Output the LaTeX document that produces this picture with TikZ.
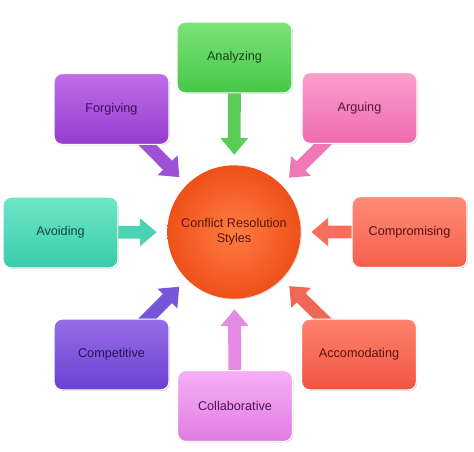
\documentclass[tikz,border=0pt]{standalone}
\usepackage{fontspec}
\setmainfont{Liberation Sans}
\usetikzlibrary{calc,shadows}
\pgfdeclarelayer{bg}
\pgfsetlayers{bg,main}
% box colours: top, bottom, text
\definecolor{anaT}{RGB}{125,226,120}\definecolor{anaB}{RGB}{70,200,70}\definecolor{anaX}{RGB}{25,70,25}
\definecolor{argT}{RGB}{250,160,205}\definecolor{argB}{RGB}{240,105,175}\definecolor{argX}{RGB}{90,20,60}
\definecolor{forT}{RGB}{190,110,230}\definecolor{forB}{RGB}{150,60,210}\definecolor{forX}{RGB}{60,15,90}
\definecolor{avoT}{RGB}{110,230,200}\definecolor{avoB}{RGB}{55,205,170}\definecolor{avoX}{RGB}{20,70,60}
\definecolor{comT}{RGB}{255,140,120}\definecolor{comB}{RGB}{245,95,75}\definecolor{comX}{RGB}{90,15,15}
\definecolor{cptT}{RGB}{150,110,230}\definecolor{cptB}{RGB}{105,65,210}\definecolor{cptX}{RGB}{40,20,90}
\definecolor{accT}{RGB}{255,130,110}\definecolor{accB}{RGB}{240,85,65}\definecolor{accX}{RGB}{90,20,15}
\definecolor{colT}{RGB}{245,175,245}\definecolor{colB}{RGB}{225,125,225}\definecolor{colX}{RGB}{80,20,80}
\definecolor{circI}{RGB}{255,125,65}\definecolor{circO}{RGB}{238,80,25}\definecolor{circX}{RGB}{90,20,15}
\newcommand\barrow[3]{%
  \fill[#3] let \p1=(#1), \p2=(#2), \n1={atan2(\y2-\y1,\x2-\x1)}, \n2={veclen(\x2-\x1,\y2-\y1)} in
  [shift={(\p1)}, rotate=\n1]
  (0pt,-4.8pt) -- ({(\n2-12.5)*1pt},-4.8pt) -- ({(\n2-12.5)*1pt},-10.5pt) -- ({\n2*1pt},0pt)
  -- ({(\n2-12.5)*1pt},10.5pt) -- ({(\n2-12.5)*1pt},4.8pt) -- (0pt,4.8pt) -- cycle;}
\begin{document}
\begin{tikzpicture}[x=0.75pt,y=-0.75pt,
  box/.style={rounded corners=6pt, minimum width=86pt, minimum height=53pt, draw=white, line width=0.8pt,
    font=\fontsize{9.5}{11}\selectfont,
    drop shadow={shadow xshift=0.8pt, shadow yshift=-0.8pt, opacity=0.3, fill=black!50}}]
\useasboundingbox (0,0) rectangle (474,452);
\node[circle, minimum size=100pt, shading=radial, inner color=circI, outer color=circO, text=circX,
  align=center, font=\fontsize{9.5}{11}\selectfont,
  drop shadow={shadow xshift=0.8pt, shadow yshift=-0.8pt, opacity=0.25, fill=black!50}] (c) at (234,232)
  {Conflict Resolution\\Styles};
\node[box, top color=anaT, bottom color=anaB, text=anaX] (ana) at (234.5,57.5) {Analyzing};
\node[box, top color=argT, bottom color=argB, text=argX] (arg) at (359.5,108) {Arguing};
\node[box, top color=forT, bottom color=forB, text=forX] (for) at (111.5,109) {Forgiving};
\node[box, top color=avoT, bottom color=avoB, text=avoX] (avo) at (60.5,232.5) {Avoiding};
\node[box, top color=comT, bottom color=comB, text=comX] (com) at (409.5,232) {Compromising};
\node[box, top color=cptT, bottom color=cptB, text=cptX] (cpt) at (111.5,354.5) {Competitive};
\node[box, top color=accT, bottom color=accB, text=accX] (acc) at (359,354.5) {Accomodating};
\node[box, top color=colT, bottom color=colB, text=colX] (col) at (235,406) {Collaborative};
\foreach \b in {ana,arg,for,avo,com,cpt,acc,col}
  \coordinate (t\b) at ($(c)!58pt!(\b)$);
\begin{pgfonlayer}{bg}
\barrow{ana}{tana}{anaB!90!white}
\barrow{arg}{targ}{argB!90!white}
\barrow{for}{tfor}{forB!90!white}
\barrow{avo}{tavo}{avoB!90!white}
\barrow{com}{tcom}{comB!90!white}
\barrow{cpt}{tcpt}{cptB!90!white}
\barrow{acc}{tacc}{accB!90!white}
\barrow{col}{tcol}{colB!90!white}
\end{pgfonlayer}
\end{tikzpicture}
\end{document}
